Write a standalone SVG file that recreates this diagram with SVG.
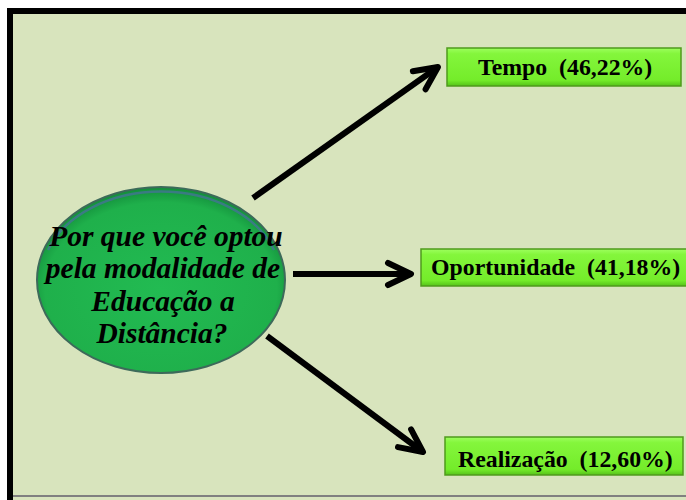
<svg xmlns="http://www.w3.org/2000/svg" width="686" height="500" viewBox="0 0 686 500">
<style>
.lbl{font-family:"Liberation Serif","Times New Roman",serif;font-weight:bold;font-size:23.8px;fill:#000;white-space:pre}
.q{font-family:"Liberation Serif","Times New Roman",serif;font-weight:bold;font-style:italic;font-size:29.5px;fill:#000;text-anchor:middle}
.box{fill:url(#boxg);stroke:#4f9a1c;stroke-width:1.5}
.arr{stroke:#000;stroke-width:6;fill:none;marker-end:url(#head)}
</style>
<defs>
<linearGradient id="boxg" x1="0" y1="0" x2="0" y2="1">
<stop offset="0" stop-color="#9dff5e"/>
<stop offset="0.15" stop-color="#84f63c"/>
<stop offset="0.85" stop-color="#74ec2a"/>
<stop offset="1" stop-color="#55c21a"/>
</linearGradient>
<radialGradient id="ellg" cx="0.5" cy="0.55" r="0.55">
<stop offset="0" stop-color="#22bb52"/>
<stop offset="0.85" stop-color="#1fb04b"/>
<stop offset="1" stop-color="#128c3a"/>
</radialGradient>
<marker id="head" markerUnits="userSpaceOnUse" viewBox="-30 -16 34 32" refX="0" refY="0" markerWidth="34" markerHeight="32" orient="auto">
<path d="M-23,-11 L0,0 L-23,11" stroke="#000" stroke-width="6" fill="none" stroke-linecap="round" stroke-linejoin="round"/>
</marker>
</defs>
<rect x="0" y="0" width="686" height="500" fill="#fff"/>
<rect x="10" y="11" width="690" height="495" fill="#d8e4bd" stroke="#000" stroke-width="6"/>
<line x1="13" y1="496" x2="686" y2="496" stroke="#808080" stroke-width="2"/>
<g id="connectors">
<line class="arr" x1="253" y1="198" x2="438" y2="67"/>
<line class="arr" x1="293" y1="274" x2="411" y2="274"/>
<line class="arr" x1="267" y1="336" x2="423" y2="452"/>
</g>
<g id="question">
<ellipse cx="161" cy="280" rx="124" ry="93" fill="url(#ellg)" stroke="#3d6a5a" stroke-width="2"/>
<path d="M48,250 A120,88 0 0 1 274,250" fill="none" stroke="#4a6fa0" stroke-width="2.5" opacity="0.7"/>
<text class="q" x="166" y="246">Por que você optou</text>
<text class="q" x="163" y="278">pela modalidade de</text>
<text class="q" x="163" y="311">Educação a</text>
<text class="q" x="162" y="343">Distância?</text>
</g>
<g id="tempo">
<rect class="box" x="447" y="48" width="234" height="38"/>
<text class="lbl" x="478" y="75">Tempo  (46,22%)</text>
</g>
<g id="oportunidade">
<rect class="box" x="421" y="249" width="268" height="37"/>
<text class="lbl" x="431" y="275">Oportunidade  (41,18%)</text>
</g>
<g id="realizacao">
<rect class="box" x="445" y="437" width="238" height="38"/>
<text class="lbl" x="458" y="467">Realização  (12,60%)</text>
</g>
</svg>
